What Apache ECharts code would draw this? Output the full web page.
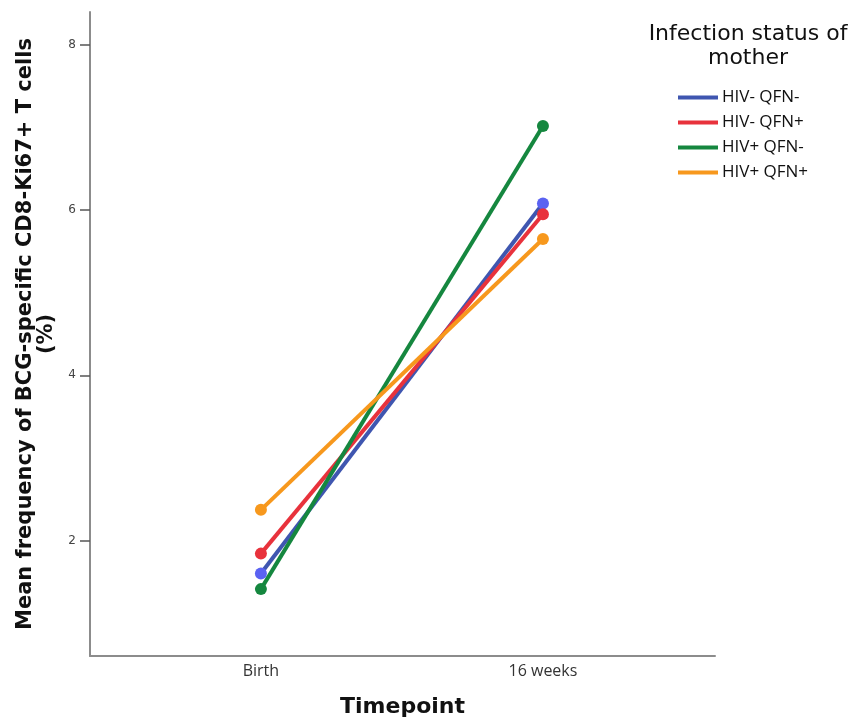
<!DOCTYPE html>
<html>
<head>
<meta charset="utf-8">
<script src="https://cdn.jsdelivr.net/npm/echarts@6/dist/echarts.min.js"></script>
<style>html,body{margin:0;padding:0;background:#fff}#c{width:854px;height:718px}</style>
</head>
<body>
<div id="c"></div>
<script>
var categories = ['Birth', '16 weeks'];
var seriesNames = ['HIV- QFN-', 'HIV- QFN+', 'HIV+ QFN-', 'HIV+ QFN+'];
var hivNegQfnNeg = [1.60, 6.08];
var hivNegQfnPos = [1.84, 5.95];
var hivPosQfnNeg = [1.41, 7.02];
var hivPosQfnPos = [2.37, 5.65];
var yTicks = [2, 4, 6, 8];

var seriesValues = [hivNegQfnNeg, hivNegQfnPos, hivPosQfnNeg, hivPosQfnPos];
var lineColors = ['#3f56b0', '#e8323c', '#15873f', '#f7981d'];
var markerColors = ['#5a62f2', '#e8323c', '#15873f', '#f7981d'];

var chart = echarts.init(document.getElementById('c'));
chart.setOption({
  animation: false,
  backgroundColor: '#fff',
  grid: { left: 90, right: 139, top: 12, bottom: 62, containLabel: false, outerBoundsMode: 'none' },
  xAxis: {
    type: 'value',
    min: 0.394, max: 2.61,
    splitLine: { show: false },
    axisLine: { show: true, onZero: false, lineStyle: { color: '#8c8c8c', width: 2 } },
    axisTick: { show: false },
    axisLabel: {
      customValues: [1, 2],
      formatter: function (v) { return categories[Math.round(v) - 1] || ''; },
      color: '#333', fontFamily: 'Open Sans', fontSize: 16, margin: 7
    },
    name: 'Timepoint', nameLocation: 'middle', nameGap: 40,
    nameTextStyle: { fontFamily: 'DejaVu Sans', fontWeight: 'bold', fontSize: 22, color: '#111' }
  },
  yAxis: {
    type: 'value',
    min: 0.6, max: 8.4,
    splitLine: { show: false },
    axisLine: { show: true, lineStyle: { color: '#8c8c8c', width: 2 } },
    axisTick: { show: true, customValues: yTicks, length: 10, lineStyle: { color: '#555', width: 1.5 } },
    axisLabel: { customValues: yTicks, color: '#444', fontFamily: 'DejaVu Sans', fontSize: 12, margin: 14 },
    name: 'Mean frequency of BCG-specific CD8-Ki67+ T cells\n(%)',
    nameLocation: 'middle', nameGap: 29,
    nameTextStyle: { fontFamily: 'DejaVu Sans', fontWeight: 'bold', fontSize: 21, lineHeight: 21, color: '#111', align: 'center' }
  },
  legend: {
    orient: 'vertical', left: 678, top: 89, padding: 0,
    icon: 'rect', itemWidth: 40, itemHeight: 4, itemGap: 8,
    textStyle: { fontFamily: 'Open Sans', fontSize: 17, color: '#111', padding: [0, 0, 0, -1] },
    data: seriesNames.map(function (n, i) { return { name: n, itemStyle: { color: lineColors[i] } }; })
  },
  graphic: [
    { type: 'text', x: 748, y: 22, style: { text: 'Infection status of\nmother', font: '22px "DejaVu Sans"', fill: '#111', align: 'center', lineHeight: 24 } }
  ],
  series: seriesValues.map(function (vals, i) {
    return {
      name: seriesNames[i], type: 'line',
      data: vals.map(function (v, j) { return [j + 1, v]; }),
      symbol: 'circle', symbolSize: 12,
      lineStyle: { color: lineColors[i], width: 4 },
      itemStyle: { color: markerColors[i] },
      color: lineColors[i]
    };
  })
});
</script>
</body>
</html>
